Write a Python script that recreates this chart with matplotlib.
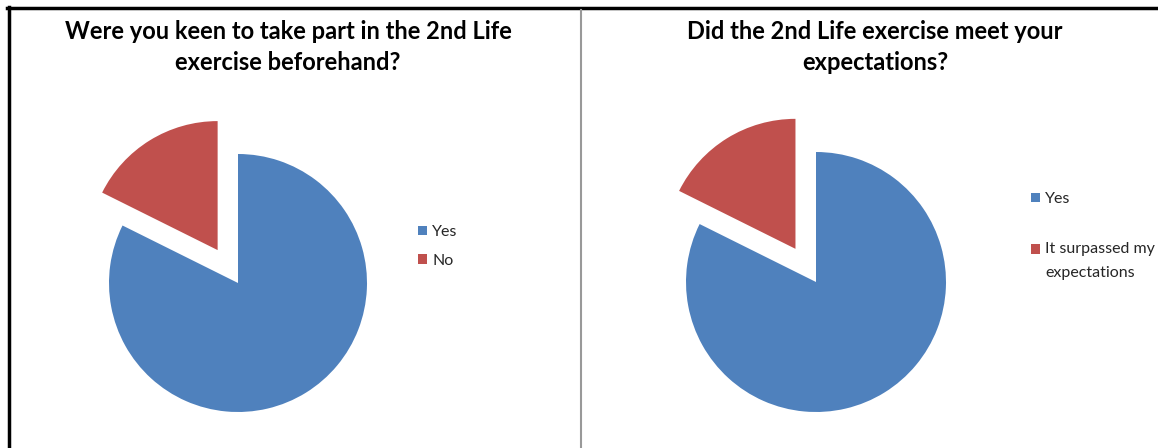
import matplotlib.pyplot as plt
from matplotlib.lines import Line2D

# survey answers (counts, ~82% / ~18%)
keen_labels = ['Yes', 'No']
keen_values = [14, 3]
expect_labels = ['Yes', 'It surpassed my\nexpectations']
expect_values = [14, 3]
colors = ['#4F81BD', '#C0504D']

W, H = 1158, 448
plt.rcParams['font.family'] = ['Lato', 'DejaVu Sans']
fig = plt.figure(figsize=(W / 100, H / 100), dpi=100)


def px(x, y):
    # pixel (from top-left) -> figure fraction
    return x / W, 1 - y / H


def pie_panel(cx, cy, r, values, labels):
    s = 200
    ax = fig.add_axes([(cx - s) / W, (H - cy - s) / H, 2 * s / W, 2 * s / H])
    wedges, _ = ax.pie(values, colors=colors, startangle=90, counterclock=False,
                       explode=[0, 0.3], radius=1,
                       wedgeprops=dict(linewidth=0))
    ax.set_xlim(-s / r, s / r)
    ax.set_ylim(-s / r, s / r)
    ax.axis('off')
    return ax, wedges


leg_kw = dict(loc='upper left', frameon=False, fontsize=11.5, handlelength=0.55,
              handleheight=0.55, handletextpad=0.35, borderpad=0, borderaxespad=0,
              labelcolor='#262626')

# left panel
ax1, w1 = pie_panel(238, 283, 129, keen_values, keen_labels)
fig.text(*px(288, 47), 'Were you keen to take part in the 2nd Life\nexercise beforehand?',
         ha='center', va='center', fontsize=17, fontweight='bold', linespacing=1.42)
fig.legend(w1, keen_labels, bbox_to_anchor=px(418, 225), labelspacing=0.93, **leg_kw)

# right panel
ax2, w2 = pie_panel(816, 282, 130, expect_values, expect_labels)
fig.text(*px(875, 47), 'Did the 2nd Life exercise meet your\nexpectations?',
         ha='center', va='center', fontsize=17, fontweight='bold', linespacing=1.42)
leg2 = fig.legend(w2, expect_labels, bbox_to_anchor=px(1031, 192), labelspacing=2.27, **leg_kw)
for t in leg2.get_texts():
    t.set_linespacing(1.85)
# keep the red marker level with the first line of the two-line label
sq = leg2.legend_handles[1]
sq.set_y(sq.get_y() + 8.5)

# frame lines of the original screenshot
fig.add_artist(Line2D([7 / W, 1], [1 - 8 / H] * 2, color='black', lw=2.5))
fig.add_artist(Line2D([8.5 / W] * 2, [1 - 7 / H, 0], color='black', lw=2.5))
fig.add_artist(Line2D([581 / W] * 2, [1 - 10 / H, 0], color='#999999', lw=1.5))

fig.savefig('out.png', dpi=100)
